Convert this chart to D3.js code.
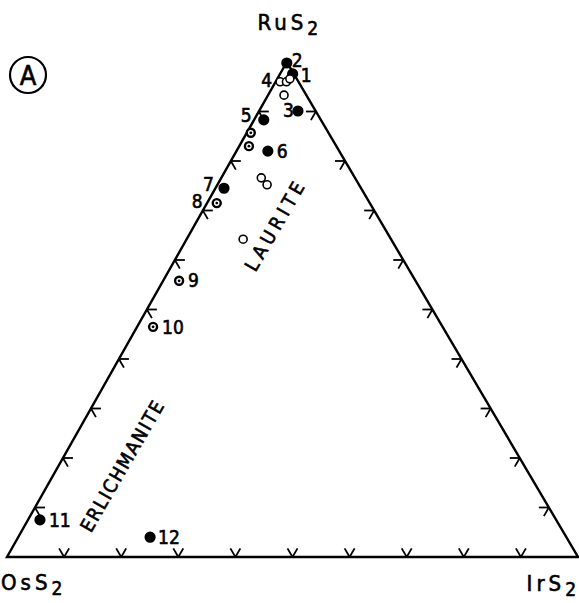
<!DOCTYPE html>
<html>
<head>
<meta charset="utf-8">
<script src="https://cdn.jsdelivr.net/npm/d3@7"></script>
<style>
  body { margin: 0; background: #fff; }
  svg { display: block; }
  text { font-family: "DejaVu Sans Condensed", "DejaVu Sans", sans-serif; fill: #000; stroke: #000; stroke-width: 0.6; }
</style>
</head>
<body>
<svg id="chart" width="579" height="603"></svg>
<script>
// compositions in mol % (RuS2, OsS2, IrS2)
const ruPct = [97.6, 99.8, 90.1, 96.0, 96.0, 96.6, 93.3, 88.3, 85.7, 83.0, 82.0, 76.6, 75.2, 74.5, 71.5, 64.2, 55.8, 46.5, 7.5, 4.0]
const osPct = [0.2, 0.1, 3.1, 3.2, 2.1, 1.2, 3.9, 10.0, 13.6, 15.3, 12.5, 16.4, 16.1, 24.0, 26.8, 25.9, 41.4, 50.7, 90.4, 72.9]
const irPct = [2.2, 0.1, 6.8, 0.8, 1.9, 2.2, 2.8, 1.7, 0.7, 1.7, 5.5, 7.0, 8.7, 1.5, 1.7, 9.9, 2.8, 2.8, 2.1, 23.1]
// filled = solid dot, open = empty circle, ring = circle with dot
const markType = ["filled", "filled", "filled", "open", "open", "open", "open", "filled", "ring", "ring",
                  "filled", "open", "open", "filled", "ring", "open", "ring", "ring", "filled", "filled"]
// sample numbers and the point each one belongs to
const sampleNo = ["1", "2", "3", "4", "5", "6", "7", "8", "9", "10", "11", "12"]
const sampleIdx = [0, 1, 2, 3, 7, 10, 13, 14, 16, 17, 18, 19]
const labelShift = [[8, 8], [5, 4], [-15, 6], [-19, 5], [-23, 2], [9, 7], [-21, 3], [-25, 5], [9, 6], [9, 7], [9, 7], [8, 7]]

const endMembers = ["RuS", "OsS", "IrS"]
const tickSteps = d3.range(1, 10).map(i => i / 10)

// field names, placed by composition
const fieldName = ["LAURITE", "ERLICHMANITE"]
const fieldRu = [66.5, 17.8]
const fieldOs = [18.0, 69.7]
const fieldIr = [15.5, 12.5]

const apexFrac = 0.49
const tickLen = 10

const svg = d3.select("#chart")
const x = d3.scaleLinear().domain([0, 1]).range([7, 578])
const y = d3.scaleLinear().domain([0, 1]).range([557, 62])

function project(ru, os, ir) {
    let s = ru + os + ir
    return [x((ir + apexFrac * ru) / s), y(ru / s)]
}

const apexPt = project(1, 0, 0)
const leftPt = project(0, 1, 0)
const rightPt = project(0, 0, 1)

// triangle
svg.append("path")
    .attr("d", d3.line()([apexPt, leftPt, rightPt]) + "Z")
    .attr("fill", "none")
    .attr("stroke", "#000")
    .attr("stroke-width", 2.4)
    .attr("stroke-linejoin", "miter")

// tick marks, two short strokes parallel to the other sides
const c60 = 0.5, s60 = Math.sqrt(3) / 2
let ticks = []
for (let t of tickSteps) {
    let b = project(0, 1 - t, t)
    ticks.push([b, [b[0] - tickLen * c60, b[1] - tickLen * s60]])
    ticks.push([b, [b[0] + tickLen * c60, b[1] - tickLen * s60]])
    let l = project(t, 1 - t, 0)
    ticks.push([l, [l[0] + tickLen, l[1]]])
    ticks.push([l, [l[0] + tickLen * c60, l[1] + tickLen * s60]])
    let r = project(t, 0, 1 - t)
    ticks.push([r, [r[0] - tickLen, r[1]]])
    ticks.push([r, [r[0] - tickLen * c60, r[1] + tickLen * s60]])
}
svg.append("g")
    .selectAll("path")
    .data(ticks)
    .join("path")
        .attr("d", d => d3.line()(d))
        .attr("stroke", "#000")
        .attr("stroke-width", 1.8)
        .attr("fill", "none")

// data points
const pts = ruPct.map((ru, i) => ({ru, os: osPct[i], ir: irPct[i], type: markType[i]}))
const marks = svg.append("g")
    .selectAll("g")
    .data(pts)
    .join("g")
        .attr("transform", d => `translate(${project(d.ru, d.os, d.ir)})`)
marks.append("circle")
    .attr("r", d => d.type == "filled" ? 4.8 : 4)
    .attr("fill", d => d.type == "filled" ? "#000" : "#fff")
    .attr("stroke", "#000")
    .attr("stroke-width", d => d.type == "ring" ? 2.4 : 1.6)
marks.filter(d => d.type == "ring")
    .append("circle")
        .attr("r", 1.4)
        .attr("fill", "#000")

// sample numbers
svg.append("g")
    .selectAll("text")
    .data(sampleNo)
    .join("text")
        .attr("x", (d, i) => project(ruPct[sampleIdx[i]], osPct[sampleIdx[i]], irPct[sampleIdx[i]])[0] + labelShift[i][0])
        .attr("y", (d, i) => project(ruPct[sampleIdx[i]], osPct[sampleIdx[i]], irPct[sampleIdx[i]])[1] + labelShift[i][1])
        .attr("font-size", 19)
        .text(d => d)

// field names along the left side
svg.append("g")
    .selectAll("text")
    .data(fieldName)
    .join("text")
        .attr("transform", (d, i) => `translate(${project(fieldRu[i], fieldOs[i], fieldIr[i])}) rotate(-60)`)
        .attr("text-anchor", "middle")
        .attr("font-size", 19)
        .attr("letter-spacing", (d, i) => i == 0 ? 4.5 : 1.8)
        .text(d => d)

// end-member labels
const cornerPos = [[apexPt[0] + 3, apexPt[1] - 32, "middle"], [leftPt[0] - 6, leftPt[1] + 33, "start"], [rightPt[0] + 2, rightPt[1] + 34, "end"]]
endMembers.forEach((name, i) => {
    let t = svg.append("text")
        .attr("x", cornerPos[i][0])
        .attr("y", cornerPos[i][1])
        .attr("text-anchor", cornerPos[i][2])
        .attr("font-size", 22)
        .attr("letter-spacing", 4)
    t.append("tspan").text(name)
    t.append("tspan").attr("dy", 5).attr("font-size", 19).text("2")
})

// panel letter
svg.append("circle")
    .attr("cx", 28).attr("cy", 75).attr("r", 18)
    .attr("fill", "none").attr("stroke", "#000").attr("stroke-width", 2.2)
svg.append("text")
    .attr("x", 28).attr("y", 85)
    .attr("text-anchor", "middle")
    .attr("font-size", 27)
    .text("A")
</script>
</body>
</html>
